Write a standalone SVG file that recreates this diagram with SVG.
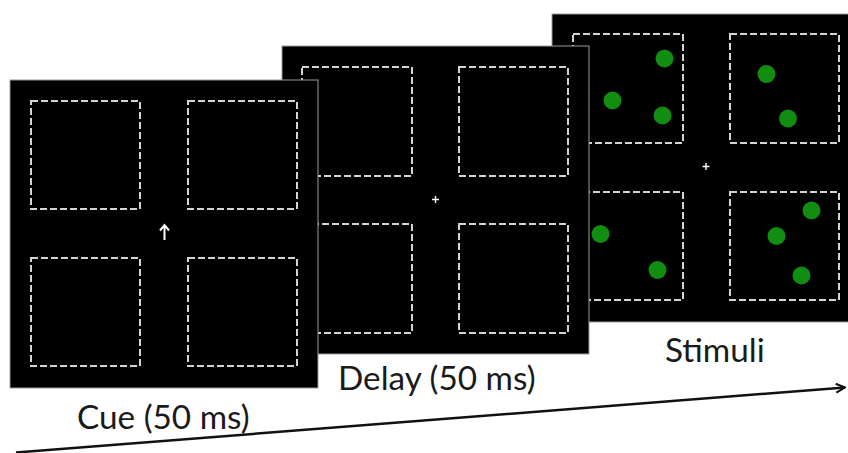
<svg xmlns="http://www.w3.org/2000/svg" width="848" height="453" viewBox="0 0 848 453">
  <style>
    .panel { fill: #000; stroke: #9a9a9a; stroke-width: 1; }
    .box { fill: none; stroke: #d4d4d4; stroke-width: 2; stroke-dasharray: 7 3; }
    .fix { stroke: #fff; stroke-width: 1.4; fill: none; }
    .dot { fill: #118d11; }
    .lbl { font-family: Lato, "Open Sans", "Liberation Sans", sans-serif; font-size: 33.3px; fill: #1a1a1a; }
    .time { stroke: #111; stroke-width: 2.5; fill: none; }
  </style>
  <defs>
    <marker id="chev" viewBox="0 0 10 10" refX="9" refY="5" markerWidth="4.5" markerHeight="4.5" orient="auto" markerUnits="strokeWidth">
      <path d="M1,1 L9,5 L1,9" fill="none" stroke="#111" stroke-width="1.8"/>
    </marker>
  </defs>
  <rect width="848" height="453" fill="#fff"/>

  <g id="stimuli">
    <rect class="panel" x="552" y="14" width="308" height="308"/>
    <rect class="box" x="573" y="34" width="110" height="109"/>
    <rect class="box" x="730" y="34" width="109" height="109"/>
    <rect class="box" x="573" y="192" width="110" height="108"/>
    <rect class="box" x="730" y="192" width="109" height="108"/>
    <path class="fix" d="M702.5,166.5 h7 M706,163 v7"/>
    <circle class="dot" cx="664.5" cy="58.5" r="9"/>
    <circle class="dot" cx="612.5" cy="100.5" r="9"/>
    <circle class="dot" cx="662.5" cy="115.5" r="9"/>
    <circle class="dot" cx="766.5" cy="74" r="9"/>
    <circle class="dot" cx="788" cy="118.5" r="9"/>
    <circle class="dot" cx="600.5" cy="234" r="9"/>
    <circle class="dot" cx="657.5" cy="270" r="9"/>
    <circle class="dot" cx="811.5" cy="210.5" r="9"/>
    <circle class="dot" cx="776.5" cy="236" r="9"/>
    <circle class="dot" cx="801.5" cy="275.5" r="9"/>
    <text class="lbl" x="665" y="361.5">Stimuli</text>
  </g>

  <g id="delay">
    <rect class="panel" x="282" y="46" width="307" height="308"/>
    <rect class="box" x="302" y="67" width="110" height="109"/>
    <rect class="box" x="459" y="67" width="109" height="109"/>
    <rect class="box" x="302" y="224" width="110" height="109"/>
    <rect class="box" x="459" y="224" width="109" height="109"/>
    <path class="fix" d="M432,199.5 h7 M435.5,196 v7"/>
    <text class="lbl" x="338" y="390">Delay (50 ms)</text>
  </g>

  <g id="cue">
    <rect class="panel" x="10" y="80" width="308" height="308"/>
    <rect class="box" x="31" y="101" width="109" height="108"/>
    <rect class="box" x="188" y="101" width="109" height="108"/>
    <rect class="box" x="31" y="258" width="109" height="108"/>
    <rect class="box" x="188" y="258" width="109" height="108"/>
    <path d="M164.5,240 V225.5 M160,230.5 L164.5,225 L169,230.5" stroke="#fff" stroke-width="2" fill="none"/>
    <text class="lbl" x="77" y="429">Cue (50 ms)</text>
  </g>

  <g id="connectors">
    <line class="time" x1="16" y1="452.5" x2="845" y2="387.5" marker-end="url(#chev)"/>
  </g>
</svg>
